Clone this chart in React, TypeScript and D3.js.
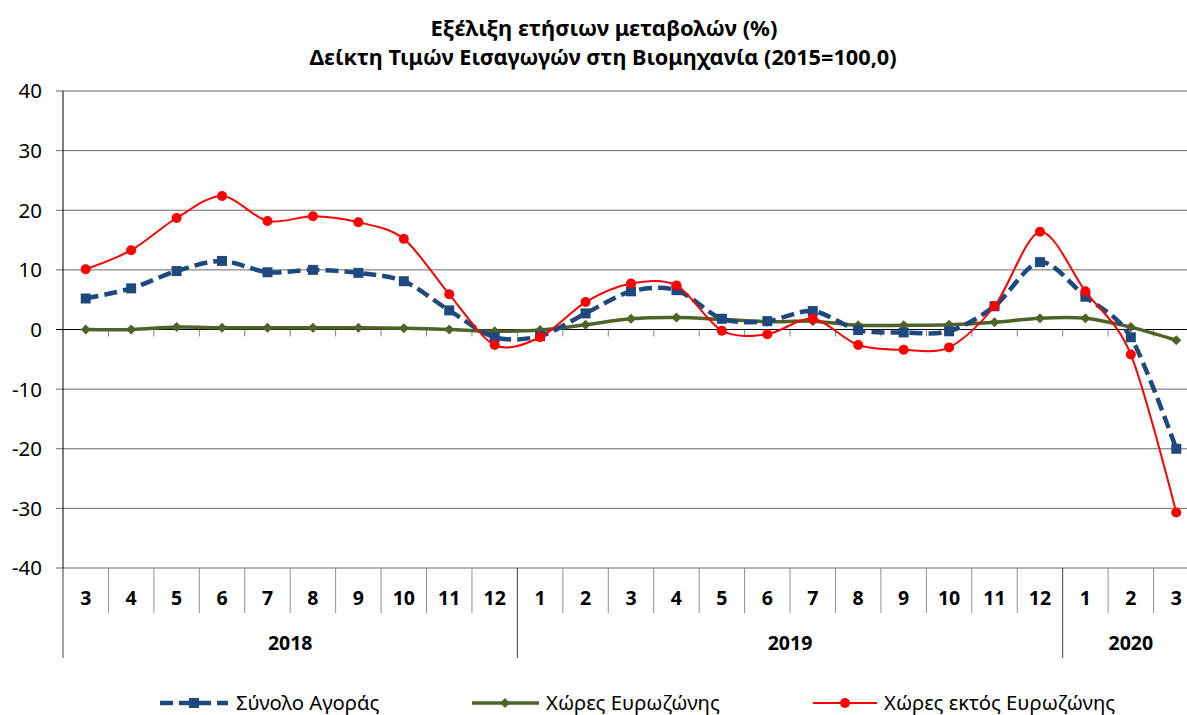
import React from 'react';
import * as d3 from 'd3';

const months = ['3', '4', '5', '6', '7', '8', '9', '10', '11', '12', '1', '2', '3', '4', '5', '6', '7', '8', '9', '10', '11', '12', '1', '2', '3'];
const years = [
    { label: '2018', from: 0, to: 10 },
    { label: '2019', from: 10, to: 22 },
    { label: '2020', from: 22, to: 25 }
];
const totalMarket = [5.2, 6.9, 9.8, 11.5, 9.6, 10.0, 9.5, 8.1, 3.2, -1.3, -1.1, 2.7, 6.4, 6.6, 1.8, 1.4, 3.1, -0.1, -0.5, -0.3, 3.9, 11.3, 5.5, -1.3, -20.0];
const euroZone = [0.0, 0.0, 0.4, 0.3, 0.3, 0.3, 0.3, 0.2, 0.0, -0.3, -0.1, 0.8, 1.8, 2.0, 1.7, 1.3, 1.4, 0.7, 0.7, 0.8, 1.2, 1.9, 1.9, 0.4, -1.8];
const nonEuroZone = [10.1, 13.3, 18.7, 22.4, 18.2, 19.0, 18.0, 15.2, 5.9, -2.6, -1.3, 4.6, 7.7, 7.4, -0.2, -0.8, 1.8, -2.6, -3.4, -3.0, 3.9, 16.4, 6.4, -4.2, -30.7];
const yTicks = [40, 30, 20, 10, 0, -10, -20, -30, -40];

const W = 1187, H = 715;
const margins = { top: 91, right: -12, bottom: 147, left: 63 };
const font = "'Noto Sans', 'Open Sans', sans-serif";

const x = d3.scaleBand<number>()
    .domain(d3.range(months.length))
    .range([margins.left, W - margins.right]);
const y = d3.scaleLinear()
    .domain([-40, 40])
    .range([H - margins.bottom, margins.top]);

// Excel-like smoothing
const curve = d3.curveCardinal.tension(0.1);
const line = d3.line<number>()
    .x((d, i) => x(i)! + x.bandwidth() / 2)
    .y(d => y(d))
    .curve(curve);

const blue = '#1f497d';
const green = '#4f6228';
const red = '#ff0000';

function Square({ cx, cy, s }: { cx: number, cy: number, s: number }) {
    return <rect x={cx - s / 2} y={cy - s / 2} width={s} height={s} fill={blue} />;
}
function Diamond({ cx, cy, s }: { cx: number, cy: number, s: number }) {
    return <path d={`M${cx},${cy - s} L${cx + s},${cy} L${cx},${cy + s} L${cx - s},${cy} Z`} fill={green} />;
}

export default function App() {
    const plotBottom = y(-40);
    const zeroY = y(0);
    const cx = (i: number) => x(i)! + x.bandwidth() / 2;
    const boundaries = d3.range(months.length + 1).map(i => margins.left + i * x.bandwidth());
    const yearEdges = new Set(years.map(d => d.from));

    return (
        <svg width={W} height={H} style={{ position: 'absolute', left: 0, top: 0, background: '#fff' }} fontFamily={font}>
            <text x={604} y={36} textAnchor="middle" fontSize={22} fontWeight="bold">Εξέλιξη ετήσιων μεταβολών (%)</text>
            <text x={603} y={65} textAnchor="middle" fontSize={21.7} fontWeight="bold">Δείκτη Τιμών Εισαγωγών στη Βιομηχανία (2015=100,0)</text>

            {/* gridlines and y axis */}
            {yTicks.map(t => (
                <g key={t}>
                    <line x1={margins.left - 7} x2={W - margins.right} y1={y(t)} y2={y(t)}
                        stroke={t === 0 ? '#000' : '#6b6b6b'} strokeWidth={1} />
                    <text x={42} y={y(t)} dy="0.36em" textAnchor="end" fontSize={20.5}>{t}</text>
                </g>
            ))}
            <line x1={margins.left} x2={margins.left} y1={margins.top} y2={plotBottom} stroke="#000" />

            {/* category ticks on zero line */}
            {boundaries.slice(1).map((b, i) => (
                <line key={'zt' + i} x1={b} x2={b} y1={zeroY} y2={zeroY + 7} stroke="#808080" />
            ))}

            {/* category axis below plot */}
            {boundaries.map((b, i) => (
                <line key={'cb' + i} x1={b} x2={b} y1={plotBottom} y2={yearEdges.has(i) ? plotBottom + 90 : plotBottom + 45}
                    stroke={yearEdges.has(i) ? '#404040' : '#909090'} />
            ))}
            {months.map((m, i) => (
                <text key={'m' + i} x={cx(i)} y={plotBottom + 30} dy="0.36em" textAnchor="middle" fontSize={19.5} fontWeight="bold">{m}</text>
            ))}
            {years.map(yr => (
                <text key={yr.label} x={(boundaries[yr.from] + boundaries[yr.to]) / 2} y={plotBottom + 75} dy="0.36em"
                    textAnchor="middle" fontSize={19.5} fontWeight="bold">{yr.label}</text>
            ))}

            {/* series */}
            <path d={line(euroZone)!} fill="none" stroke={green} strokeWidth={3.5} />
            {euroZone.map((v, i) => <Diamond key={'g' + i} cx={cx(i)} cy={y(v)} s={5} />)}

            <path d={line(totalMarket)!} fill="none" stroke={blue} strokeWidth={4.5} strokeDasharray="13,6" />
            {totalMarket.map((v, i) => <Square key={'b' + i} cx={cx(i)} cy={y(v)} s={10} />)}

            <path d={line(nonEuroZone)!} fill="none" stroke={red} strokeWidth={2} />
            {nonEuroZone.map((v, i) => <circle key={'r' + i} cx={cx(i)} cy={y(v)} r={5} fill={red} />)}

            {/* legend */}
            <g>
                <line x1={160} x2={228} y1={703} y2={703} stroke={blue} strokeWidth={4.5} strokeDasharray="13,6" />
                <Square cx={194} cy={703} s={10} />
                <text x={236} y={703} dy="0.36em" fontSize={20.3}>Σύνολο Αγοράς</text>

                <line x1={472} x2={539} y1={703} y2={703} stroke={green} strokeWidth={3.5} />
                <Diamond cx={505} cy={703} s={5} />
                <text x={546} y={703} dy="0.36em" fontSize={20.3}>Χώρες Ευρωζώνης</text>

                <line x1={813} x2={877} y1={703} y2={703} stroke={red} strokeWidth={2} />
                <circle cx={845} cy={703} r={5} fill={red} />
                <text x={884} y={703} dy="0.36em" fontSize={20.3}>Χώρες εκτός Ευρωζώνης</text>
            </g>
        </svg>
    );
}
